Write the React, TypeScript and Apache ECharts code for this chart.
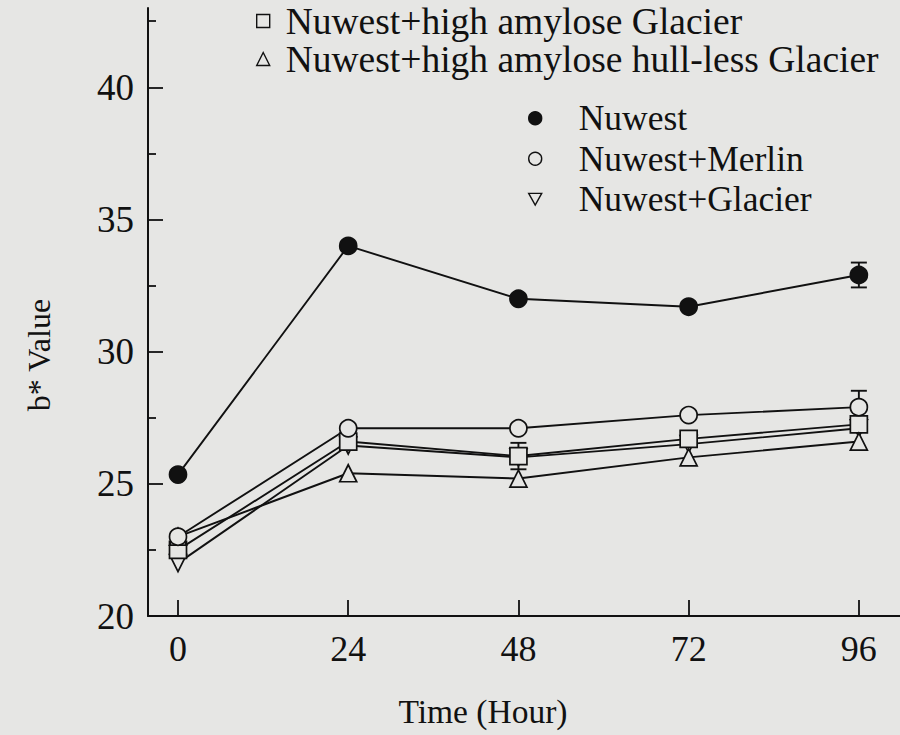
import React, { useEffect, useRef } from "react";
import * as echarts from "echarts";

const hours = [0, 24, 48, 72, 96];
const nuwest = [25.35, 34.0, 32.0, 31.7, 32.9];
const merlin = [23.0, 27.1, 27.1, 27.6, 27.9];
const glacier = [22.0, 26.45, 26.0, 26.5, 27.1];
const haGlacier = [22.5, 26.6, 26.05, 26.7, 27.25];
const hlGlacier = [23.0, 25.4, 25.2, 26.0, 26.6];

const nuwestErr = [0, 0, 0, 0, 0.47];
const merlinErr = [0, 0, 0, 0, 0.62];
const haGlacierErr = [0, 0, 0.5, 0, 0];

const yLabels = [20, 25, 30, 35, 40];
const yMinorTicks = [22.5, 27.5, 32.5, 37.5, 42.5];
const xLabels = [0, 24, 48, 72, 96];

const names = {
  nuwest: "Nuwest",
  merlin: "Nuwest+Merlin",
  glacier: "Nuwest+Glacier",
  ha: "Nuwest+high amylose Glacier",
  hl: "Nuwest+high amylose hull-less Glacier",
};

const BG = "#e6e6e4";
const INK = "#111111";
const FONT = "Liberation Serif";
const DOWN_TRI = "path://M0,0L10,0L5,9Z";

export default function App() {
  const ref = useRef<HTMLDivElement>(null);
  useEffect(() => {
    if (!ref.current) return;
    const chart = echarts.init(ref.current, null, { renderer: "svg" });
    const pts = (vals: number[]) => hours.map((h, i) => [h, vals[i]]);
    const errPts = (vals: number[], errs: number[]) =>
      hours.map((h, i) => [h, vals[i], errs[i]]);

    const lineSeries = (name: string, vals: number[], symbol: string, filled: boolean, rotate = 0) => ({
      type: "line",
      name,
      data: pts(vals),
      symbol,
      symbolSize: 17,
      symbolRotate: rotate,
      showAllSymbol: true,
      z: 3,
      lineStyle: { color: INK, width: 1.9 },
      itemStyle: { color: filled ? INK : BG, borderColor: INK, borderWidth: 1.7, opacity: 1 },
      emphasis: { disabled: true },
    });

    const errSeries = (vals: number[], errs: number[]) => ({
      type: "custom",
      z: 2,
      silent: true,
      data: errPts(vals, errs),
      encode: { x: 0, y: 1 },
      renderItem: (params: any, api: any) => {
        const x = api.value(0);
        const y = api.value(1);
        const e = api.value(2);
        if (!e) return null;
        const top = api.coord([x, y + e]);
        const bot = api.coord([x, y - e]);
        const st = { stroke: INK, lineWidth: 1.9 };
        return {
          type: "group",
          children: [
            { type: "line", shape: { x1: top[0], y1: top[1], x2: bot[0], y2: bot[1] }, style: st },
            { type: "line", shape: { x1: top[0] - 8, y1: top[1], x2: top[0] + 8, y2: top[1] }, style: st },
            { type: "line", shape: { x1: bot[0] - 8, y1: bot[1], x2: bot[0] + 8, y2: bot[1] }, style: st },
          ],
        };
      },
    });

    const legendText = (pad: number, size: number) => ({
      fontFamily: FONT,
      fontSize: size,
      color: INK,
      padding: [0, 0, 0, pad],
    });

    chart.setOption({
      animation: false,
      backgroundColor: BG,
      textStyle: { fontFamily: FONT },
      grid: { left: 148, right: 0, top: 8, bottom: 119, containLabel: false },
      legend: [
        {
          orient: "vertical",
          left: 256,
          top: 2,
          padding: 0,
          itemGap: 0,
          itemWidth: 13,
          itemHeight: 13,
          selectedMode: false,
          textStyle: { ...legendText(11, 37.5), lineHeight: 37 },
          data: [
            { name: names.ha, icon: "rect", itemStyle: { color: BG, borderColor: INK, borderWidth: 1.4 } },
            { name: names.hl, icon: "triangle", itemStyle: { color: BG, borderColor: INK, borderWidth: 1.4 } },
          ],
        },
        {
          orient: "vertical",
          left: 528,
          top: 98,
          padding: 0,
          itemGap: 0,
          itemWidth: 13,
          itemHeight: 13,
          selectedMode: false,
          textStyle: { ...legendText(32, 35.5), lineHeight: 40.5 },
          data: [
            { name: names.nuwest, icon: "circle", itemStyle: { color: INK, borderColor: INK, borderWidth: 1.4 } },
            { name: names.merlin, icon: "circle", itemStyle: { color: BG, borderColor: INK, borderWidth: 1.4 } },
            { name: names.glacier, icon: DOWN_TRI, itemStyle: { color: BG, borderColor: INK, borderWidth: 1.4 } },
          ],
        },
      ],
      xAxis: {
        type: "value",
        min: -4.23,
        max: 101.8,
        name: "Time (Hour)",
        nameLocation: "middle",
        nameGap: 78,
        nameTextStyle: { fontFamily: FONT, fontSize: 33.5, color: INK, padding: [0, 82, 0, 0] },
        axisLine: { show: true, onZero: false, lineStyle: { color: INK, width: 2 } },
        axisTick: { show: true, inside: true, length: 16, customValues: xLabels, lineStyle: { color: INK, width: 1.8 } },
        axisLabel: { customValues: xLabels, fontFamily: FONT, fontSize: 36, color: INK, margin: 15 },
        splitLine: { show: false },
      },
      yAxis: [
        {
          type: "value",
          min: 20,
          max: 43,
          name: "b* Value",
          nameLocation: "middle",
          nameGap: 93,
          nameRotate: 90,
          nameTextStyle: { fontFamily: FONT, fontSize: 32, color: INK, padding: [0, 86, 0, 0] },
          axisLine: { show: true, onZero: false, lineStyle: { color: INK, width: 2 } },
          axisTick: { show: true, inside: true, length: 15, customValues: yLabels, lineStyle: { color: INK, width: 1.8 } },
          axisLabel: { customValues: yLabels, fontFamily: FONT, fontSize: 37, color: INK, margin: 14 },
          splitLine: { show: false },
        },
        {
          type: "value",
          min: 20,
          max: 43,
          position: "left",
          axisLine: { show: false, onZero: false },
          axisTick: { show: true, inside: true, length: 8, customValues: yMinorTicks, lineStyle: { color: INK, width: 1.8 } },
          axisLabel: { show: false },
          splitLine: { show: false },
        },
      ],
      series: [
        errSeries(nuwest, nuwestErr),
        errSeries(merlin, merlinErr),
        errSeries(haGlacier, haGlacierErr),
        lineSeries(names.glacier, glacier, "triangle", false, 180),
        lineSeries(names.ha, haGlacier, "rect", false),
        lineSeries(names.hl, hlGlacier, "triangle", false),
        lineSeries(names.merlin, merlin, "circle", false),
        lineSeries(names.nuwest, nuwest, "circle", true),
      ],
    });
    return () => chart.dispose();
  }, []);
  return (
    <div
      ref={ref}
      style={{ position: "absolute", left: 0, top: 0, width: 900, height: 735, background: BG }}
    />
  );
}
